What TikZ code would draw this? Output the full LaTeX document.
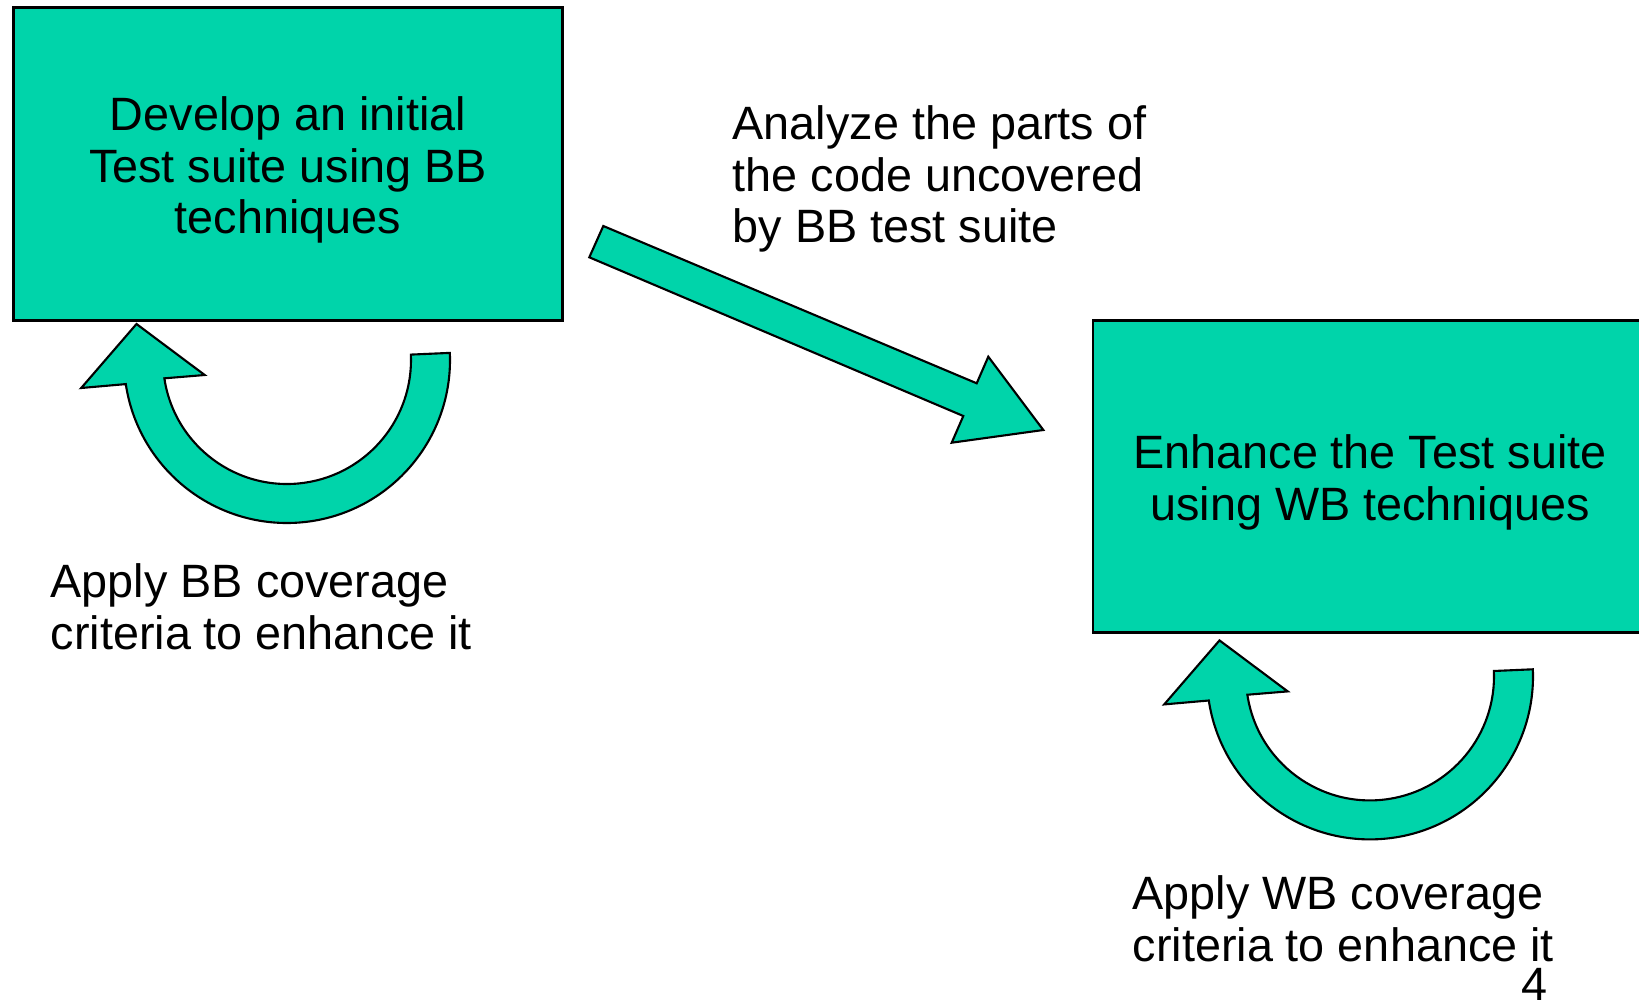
\documentclass[tikz,border=0pt]{standalone}
\usepackage{fontspec}
\setmainfont{Liberation Sans}
\definecolor{tealfill}{RGB}{0,212,170}
\begin{document}
\begin{tikzpicture}[x=0.01cm,y=-0.01cm,
  box/.style={draw=black, line width=0.8pt, fill=tealfill, inner sep=0pt},
  blockarrow/.style={draw=black, line width=0.6pt, fill=tealfill, line join=miter},
  txt/.style={font=\fontsize{13.3}{14.7}\selectfont, inner sep=0pt, text=black},
  % U-shaped block arrow turning back up, drawn around its centre point
  looparrow/.pic={
    \filldraw[blockarrow] (-2.5:163) arc[start angle=-2.5, end angle=171.5, radius=163]
      -- (-205.8,28) -- (-150.5,-36) -- (-82.3,15)
      -- (171.5:124) arc[start angle=171.5, end angle=-2.5, radius=124] -- cycle;
  }]
\useasboundingbox (0,0) rectangle (1639,1000);
\clip (0,0) rectangle (1639,1000);
\fill[white] (0,0) rectangle (1639,1000);

% the two process boxes
\node[box, minimum width=5.49cm, minimum height=3.134cm] (bb) at (287.8,164) {};
\node[txt, align=center, anchor=north] (bbtext) at (288,96)
  {Develop an initial\\Test suite using BB\\techniques};
\node[box, minimum width=6.27cm, minimum height=3.12cm] (wb) at (1406.7,476.7) {};
\node[txt, align=center, anchor=north] (wbtext) at (1370,434)
  {Enhance the Test suite\\using WB techniques};

% block arrow from the first box towards the second
\filldraw[blockarrow] (603.3,226) -- (976.7,383.3) -- (988.3,356.7) -- (1043.3,430)
  -- (951.7,442.7) -- (963.3,416) -- (589.3,257.3) -- cycle;

% loop arrows under each box
\coordinate (c1) at (287,360);
\coordinate (c2) at (1370,676.4);
\pic (loopbb) at (c1) {looparrow};
\pic (loopwb) at (c2) {looparrow};

% captions
\node[txt, align=left, anchor=north west] (analyze) at (732,105)
  {Analyze the parts of\\the code uncovered\\by BB test suite};
\node[txt, align=left, anchor=north west] (bbcap) at (50,563)
  {Apply BB coverage\\criteria to enhance it};
\node[txt, align=left, anchor=north west] (wbcap) at (1132,875)
  {Apply WB coverage\\criteria to enhance it};
\node[txt, anchor=north] (pagenum) at (1534,968) {4};
\end{tikzpicture}
\end{document}
